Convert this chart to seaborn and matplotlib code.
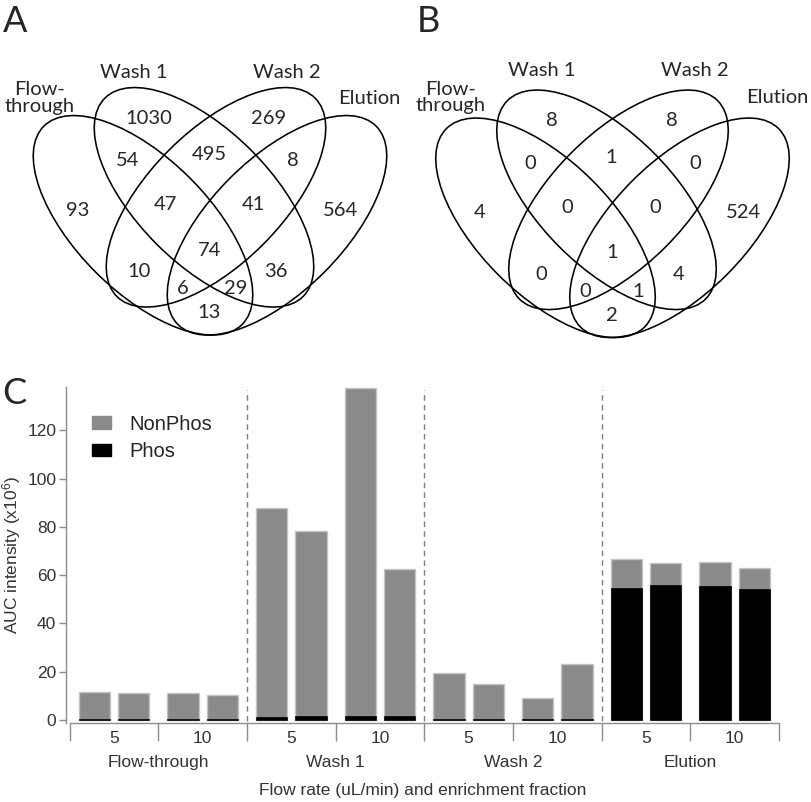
import numpy as np
import pandas as pd
import matplotlib
matplotlib.use("Agg")
import matplotlib.pyplot as plt
from matplotlib.patches import Ellipse, Patch
import seaborn as sns

# ── 1. Data ───────────────────────────────────────────────────
# Venn sets (A = Flow-through, B = Wash 1, C = Wash 2, D = Elution)
set_names = ["Flow-\nthrough", "Wash 1", "Wash 2", "Elution"]
regions = ["A", "B", "C", "D", "AB", "BC", "CD", "ABC", "BCD",
           "ABCD", "AC", "BD", "ACD", "ABD", "AD"]
counts_all = [93, 1030, 269, 564, 54, 495, 8, 47, 41, 74, 10, 36, 6, 29, 13]
counts_phos = [4, 8, 8, 524, 0, 1, 0, 0, 0, 1, 0, 4, 0, 1, 2]

# Bar chart: 4 fractions x 2 flow rates x 2 replicates
fractions = ["Flow-through", "Wash 1", "Wash 2", "Elution"]
flow_rates = ["5", "10"]
phos = [0.5, 0.5, 0.4, 0.4,
        1.2, 1.5, 1.5, 1.5,
        0.5, 0.5, 0.3, 0.5,
        54.9, 56.0, 55.4, 54.1]
nonphos = [11.2, 10.8, 10.9, 9.9,
           86.6, 77.0, 136.0, 61.0,
           18.8, 14.4, 8.7, 22.7,
           11.7, 9.2, 10.2, 8.9]

# ── 2. Layout (pixels of the 812x802 canvas) ──────────────────
ell_centers = [(143, 225.3), (204, 197.3), (216, 197.3), (277, 225.3)]
ell_angles = [45, 45, -45, -45]
ell_w, ell_h = 280.4, 133.2

region_xy = {"A": (77.5, 209), "B": (149, 117), "C": (269, 117), "D": (341, 209),
             "AB": (127.5, 160), "BC": (209, 154), "CD": (292.5, 160),
             "ABC": (165, 204), "BCD": (253, 204), "ABCD": (209.5, 249),
             "AC": (139, 270.5), "BD": (276, 270.5), "ACD": (182.5, 288),
             "ABD": (236, 288), "AD": (209.5, 312)}
labels_A = [(40, 98), (133.7, 72.5), (287.3, 72.5), (369.7, 99)]
labels_B = [(451, 97.5), (542, 71), (695.3, 71), (777.7, 97.5)]

VENN_FONT = "Lato"
GRAY = "#8a8a8a"

sns.set_theme(style="white")
plt.rcParams["font.family"] = ["Liberation Sans", "DejaVu Sans"]
plt.rcParams["mathtext.default"] = "regular"

fig = plt.figure(figsize=(8.12, 8.02), dpi=100)

# ── 3. Venn diagrams on a pixel overlay ───────────────────────
ov = fig.add_axes([0, 0, 1, 1])
ov.set_xlim(0, 812)
ov.set_ylim(802, 0)
ov.axis("off")


def draw_venn(dx, dy, counts, label_xy):
    for (cx, cy), ang in zip(ell_centers, ell_angles):
        ov.add_patch(Ellipse((cx + dx, cy + dy), ell_w, ell_h, angle=ang,
                             fill=False, ec="black", lw=1.15))
    for r, n in zip(regions, counts):
        x, y = region_xy[r]
        ov.text(x + dx, y + dy + 1, str(n), ha="center", va="center",
                family=VENN_FONT, fontsize=14.5)
    for name, (x, y) in zip(set_names, label_xy):
        ov.text(x, y, name, ha="center", va="center", family=VENN_FONT,
                fontsize=14.5, linespacing=0.95)


draw_venn(0, 0, counts_all, labels_A)
draw_venn(402.5, 2.5, counts_phos, labels_B)

for letter, (x, y) in zip("ABC", [(15, 22), (428.5, 22), (14, 393)]):
    ov.text(x, y, letter, ha="center", va="center", family=VENN_FONT, fontsize=26)

# ── 4. Stacked bar chart ──────────────────────────────────────
P = 2.26  # subgroup pitch in bar units
df = pd.DataFrame({
    "fraction": np.repeat(fractions, 4),
    "rate": np.tile(np.repeat(flow_rates, 2), 4),
    "phos": phos,
    "nonphos": nonphos,
})
df["sub"] = np.arange(len(df)) // 2
df["pos"] = df["sub"] * P + np.arange(len(df)) % 2
df["total"] = df["phos"] + df["nonphos"]

ax = fig.add_axes([66 / 812, 79 / 802, 713 / 812, 336 / 802])
ax.patch.set_alpha(0)
sns.barplot(data=df, x="pos", y="total", native_scale=True, width=0.8,
            color=GRAY, saturation=1, edgecolor="#c4c4c4", linewidth=1,
            errorbar=None, ax=ax)
sns.barplot(data=df, x="pos", y="phos", native_scale=True, width=0.8,
            color="black", saturation=1, edgecolor="black", linewidth=0.5,
            errorbar=None, ax=ax)

bounds = np.arange(9) * P - (P - 1) / 2
centers = np.arange(8) * P + 0.5
ax.set_xlim(-0.723, bounds[-1])
ax.set_ylim(-1.24, 138)
ax.set_yticks(range(0, 121, 20))
ax.set_xticks(centers)
ax.set_xticklabels(flow_rates * 4)
ax.set_xticks(bounds, minor=True)

for s in ["top", "right"]:
    ax.spines[s].set_visible(False)
for s in ["left", "bottom"]:
    ax.spines[s].set_color("#8c8c8c")
    ax.spines[s].set_linewidth(1)
ax.spines["bottom"].set_bounds(bounds[0], bounds[-1])

ax.tick_params(axis="y", length=5, width=1, color="#8c8c8c", labelsize=12.5,
               labelcolor="#333333", pad=2, left=True)
ax.tick_params(axis="x", which="major", length=0, pad=6, labelsize=12.5,
               labelcolor="#333333")
ax.tick_params(axis="x", which="minor", length=13, width=1, color="#8c8c8c",
               bottom=True)

for g in range(1, 4):
    ax.axvline(bounds[2 * g], ymin=0.005, ymax=0.99, color="#7f7f7f",
               lw=1, ls=(0, (4, 3)))

for g, frac in enumerate(fractions):
    ax.text((bounds[2 * g] + bounds[2 * g + 2]) / 2, -0.119, frac,
            transform=ax.get_xaxis_transform(), ha="center", va="center",
            fontsize=12.5, color="#333333")

ax.set_xlabel("Flow rate (uL/min) and enrichment fraction", fontsize=12.5,
              color="#333333")
ax.xaxis.set_label_coords(0.5, -0.178)
ax.set_ylabel("AUC intensity (x10$^{6}$)", fontsize=12.5, color="#333333")
ax.yaxis.set_label_coords(-0.06, 0.5)

ax.legend(handles=[Patch(fc=GRAY, ec=GRAY, label="NonPhos"),
                   Patch(fc="black", ec="black", label="Phos")],
          loc="upper left", bbox_to_anchor=(0.0365, 0.918), frameon=False,
          fontsize=14.5, handlelength=0.95, handleheight=0.6,
          handletextpad=0.9, labelspacing=0.42, borderpad=0, borderaxespad=0)

fig.savefig("out.png", dpi=100, facecolor="white")
